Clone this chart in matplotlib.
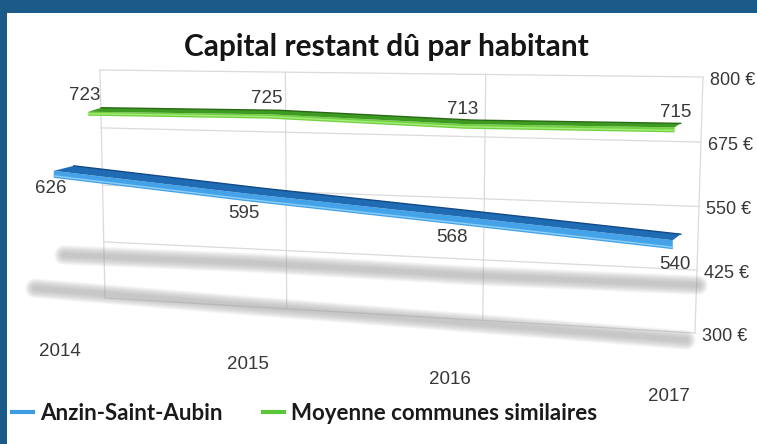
import numpy as np
import matplotlib
matplotlib.use('Agg')
import matplotlib.pyplot as plt
import matplotlib.transforms as mtransforms
from matplotlib.patches import Polygon
from matplotlib.lines import Line2D

# data
years = ['2014', '2015', '2016', '2017']
anzin = [626, 595, 568, 540]
moyenne = [723, 725, 713, 715]
ticks = [300, 425, 550, 675, 800]
tick_labels = ['300 €', '425 €', '550 €', '675 €', '800 €']
series_names = ['Anzin-Saint-Aubin', 'Moyenne communes similaires']
title = 'Capital restant dû par habitant'

W, H = 757, 444
fig = plt.figure(figsize=(W / 100, H / 100), dpi=100, facecolor='#1c5a8a')
# axes in pixel units, y down, white area inside the blue frame
ax = fig.add_axes([7 / W, 0, 1 - 7 / W, 1 - 13 / H], facecolor='white')
ax.set_xlim(7, W)
ax.set_ylim(H, 13)
ax.set_autoscale_on(False)
ax.set_xticks([])
ax.set_yticks([])
for s in ax.spines.values():
    s.set_visible(False)

idx = np.arange(len(years))
vmin, vmax = ticks[0], ticks[-1]
# (category index, value) -> unit square
norm = mtransforms.Affine2D().scale(1 / (len(years) - 1), 1 / (vmax - vmin)) \
    .translate(0, -vmin / (vmax - vmin))


class QuadMap(mtransforms.Transform):
    """unit square -> quad (perspective / homography)"""
    input_dims = 2
    output_dims = 2

    def __init__(self, bl, br, tr, tl):
        super().__init__()
        (x0, y0), (x1, y1), (x2, y2), (x3, y3) = bl, br, tr, tl
        sx = x0 - x1 + x2 - x3
        sy = y0 - y1 + y2 - y3
        dx1, dx2 = x1 - x2, x3 - x2
        dy1, dy2 = y1 - y2, y3 - y2
        den = dx1 * dy2 - dx2 * dy1
        g = (sx * dy2 - dx2 * sy) / den
        h = (dx1 * sy - sx * dy1) / den
        self.m = (x1 - x0 + g * x1, x3 - x0 + h * x3, x0,
                  y1 - y0 + g * y1, y3 - y0 + h * y3, y0, g, h)

    def transform_non_affine(self, values):
        a, b, c, d, e, f, g, h = self.m
        values = np.asarray(values, dtype=float).reshape(-1, 2)
        u, v = values[:, 0], values[:, 1]
        w = g * u + h * v + 1
        return np.column_stack([(a * u + b * v + c) / w, (d * u + e * v + f) / w])


def layer(xl, yl, sl, xr, yr, sr, lean_l=0.0, lean_r=0.0):
    # left/right: x and y of the 300 level, pixel height of the 300-800 span
    return norm + QuadMap((xl, yl), (xr, yr), (xr + lean_r, yr - sr), (xl + lean_l, yl - sl))


def shifted(xl, yl, sl, xr, yr, sr, lean_l, lean_r, d_left, d_right):
    return layer(xl + d_left[0], yl + d_left[1], sl, xr + d_right[0], yr + d_right[1], sr,
                 lean_l, lean_r)


wall = layer(105, 298, 228, 695, 333, 256, -5, 8)
floor = layer(60, 351, 228, 669, 396, 256)
green_geo = (99, 304, 228, 671, 339.5, 256, -5, 8)
blue_geo = (67, 324, 235, 673, 366, 262, -5, 8)
green_layer = layer(*green_geo)
blue_layer = layer(*blue_geo)
green_lab = shifted(*green_geo, (-10, -16), (-2, -15))
blue_lab = shifted(*blue_geo, (-13, 17), (-2, 23))
green_shadow = layer(64, 348, 110, 698, 389, 125)
blue_shadow = layer(35, 360, 110, 686, 400, 125)

# grid on the back wall
for t in ticks:
    ax.plot([0, len(years) - 1], [t, t], color='#dadada', lw=0.9,
            transform=wall + ax.transData, zorder=1)
for i in idx:
    ax.plot([i, i], [vmin, vmax], color='#dadada', lw=0.9,
            transform=wall + ax.transData, zorder=1)

# blurred shadows on the floor
for sh, vals in [(green_shadow, moyenne), (blue_shadow, anzin)]:
    for lw in np.linspace(14, 3, 9):
        ax.plot(idx, vals, color='#a8a8a8', alpha=0.1, lw=lw,
                solid_capstyle='round', transform=sh + ax.transData, zorder=2)


def ribbon(tr, vals, d_l, d_r, t_l, t_r, top_c, front_c, edge_c, hi_c):
    P = tr.transform(np.column_stack([idx, vals]))
    u = idx / (len(idx) - 1)
    D = np.array(d_l) + (np.array(d_r) - np.array(d_l)) * u[:, None]
    T = t_l + (t_r - t_l) * u
    B = P - D / 2
    B[:, 1] -= T / 2
    F = P + D / 2
    F[:, 1] -= T / 2
    Fb = F.copy()
    Fb[:, 1] += T
    ax.add_patch(Polygon(np.vstack([F, Fb[::-1]]), fc=front_c, ec='none', zorder=3))
    ax.add_patch(Polygon(np.vstack([B, F[::-1]]), fc=top_c, ec='none', zorder=3))
    ax.plot(B[:, 0], B[:, 1], color=edge_c, lw=1.0, zorder=3)
    ax.plot(Fb[:, 0], Fb[:, 1] - 2, color=hi_c, lw=1.0, zorder=3)


ribbon(green_layer, moyenne, (-13, 4), (-6, 4), 4, 5,
       '#3e9b22', '#72d140', '#2a6a14', '#a6ec7c')
ribbon(blue_layer, anzin, (-20, 5), (-8, 6), 7, 9,
       '#1f6cb5', '#44a2e8', '#114a86', '#8ccff7')

lab_font = dict(family='Liberation Sans', size=13.5, color='#383838')
for i in idx:
    ax.text(i, moyenne[i], str(moyenne[i]), ha='center', va='center',
            transform=green_lab + ax.transData, zorder=4, **lab_font)
    ax.text(i, anzin[i], str(anzin[i]), ha='center', va='center',
            transform=blue_lab + ax.transData, zorder=4, **lab_font)
    ax.text(i, vmin, years[i], ha='center', va='center',
            transform=floor + ax.transData, zorder=4, **lab_font)

# value axis on the right
ytr = mtransforms.offset_copy(wall + ax.transData, fig=fig, x=7, y=-3, units='dots')
for t, lab in zip(ticks, tick_labels):
    ax.text(len(years) - 1, t, lab, ha='left', va='center', transform=ytr,
            zorder=4, family='Liberation Sans', size=13, color='#383838')

ax.text(386, 47, title, ha='center', va='center', family='Lato', weight='bold',
        size=21.5, color='#151515')

handles = [Line2D([], [], color='#3d9de0', lw=3),
           Line2D([], [], color='#5cc63a', lw=3)]
ax.legend(handles, series_names, loc='center left', bbox_to_anchor=(12, 413),
          bbox_transform=ax.transData, ncol=2, frameon=False, borderpad=0,
          borderaxespad=0, handlelength=0.95, handletextpad=0.32, columnspacing=1.8,
          prop=dict(family='Lato', weight='bold', size=16), labelcolor='#1a1a1a')

fig.savefig('out.png', dpi=100, facecolor=fig.get_facecolor())
